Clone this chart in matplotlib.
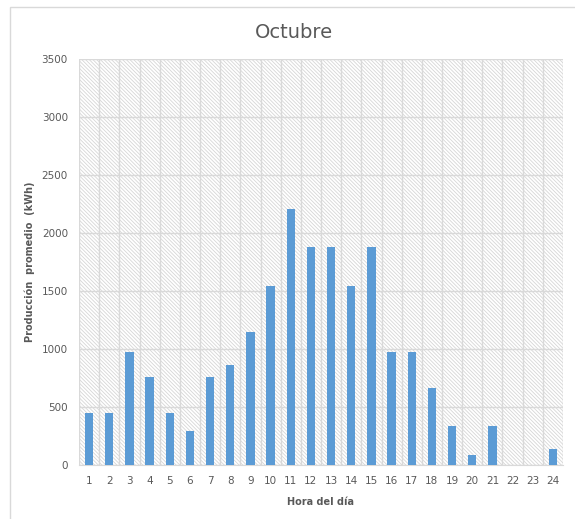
import matplotlib.pyplot as plt
from matplotlib.patches import Rectangle

horas = list(range(1, 25))
produccion = [450, 450, 970, 760, 450, 290, 760, 860, 1150, 1540, 2210, 1880,
              1880, 1540, 1880, 970, 970, 660, 340, 90, 340, 0, 0, 140]
y_ticks = [0, 500, 1000, 1500, 2000, 2500, 3000, 3500]

texto = '#595959'
rejilla = '#d9d9d9'

fig = plt.figure(figsize=(5.75, 5.19), dpi=100)
fig.patches.append(Rectangle((10 / 575, -0.1), 1.2, 1 - 7 / 519 + 0.1,
                             transform=fig.transFigure, fill=False,
                             edgecolor='#d9d9d9', linewidth=1))

ax = fig.add_axes([79 / 575, 1 - 465 / 519, (563 - 79) / 575, (465 - 59) / 519])

# fondo rayado del area de trazado
plt.rcParams['hatch.color'] = '#d6d6d6'
plt.rcParams['hatch.linewidth'] = 0.6
ax.add_patch(Rectangle((0, 0), 1, 1, transform=ax.transAxes, facecolor='white',
                       edgecolor='#d6d6d6', hatch='\\' * 9, linewidth=0,
                       zorder=0))

ax.bar(horas, produccion, width=0.42, color='#5b9bd5', zorder=3)

ax.set_xlim(0.5, 24.5)
ax.set_ylim(0, 3500)
ax.set_yticks(y_ticks)
ax.set_xticks(horas)
ax.set_xticks([h + 0.5 for h in range(0, 25)], minor=True)
ax.grid(axis='y', color=rejilla, linewidth=1, zorder=1)
ax.grid(axis='x', which='minor', color=rejilla, linewidth=1, zorder=1)
ax.tick_params(which='both', length=0, colors=texto, labelsize=7.5)
ax.tick_params(axis='x', pad=8)
ax.tick_params(axis='y', pad=8)
for s in ['left', 'top', 'right']:
    ax.spines[s].set_visible(False)
ax.spines['bottom'].set_color(rejilla)

ax.set_xlabel('Hora del día', fontsize=7, fontweight='bold', color=texto)
ax.set_ylabel('Producción  promedio  (kWh)', fontsize=7, fontweight='bold',
              color=texto)
ax.xaxis.set_label_coords(0.498, -0.079)
ax.yaxis.set_label_coords(-0.091, 0.5)
fig.text(0.512, 1 - 32 / 519, 'Octubre', fontsize=14, color=texto,
         ha='center', va='center')

fig.savefig('out.png', dpi=100)
